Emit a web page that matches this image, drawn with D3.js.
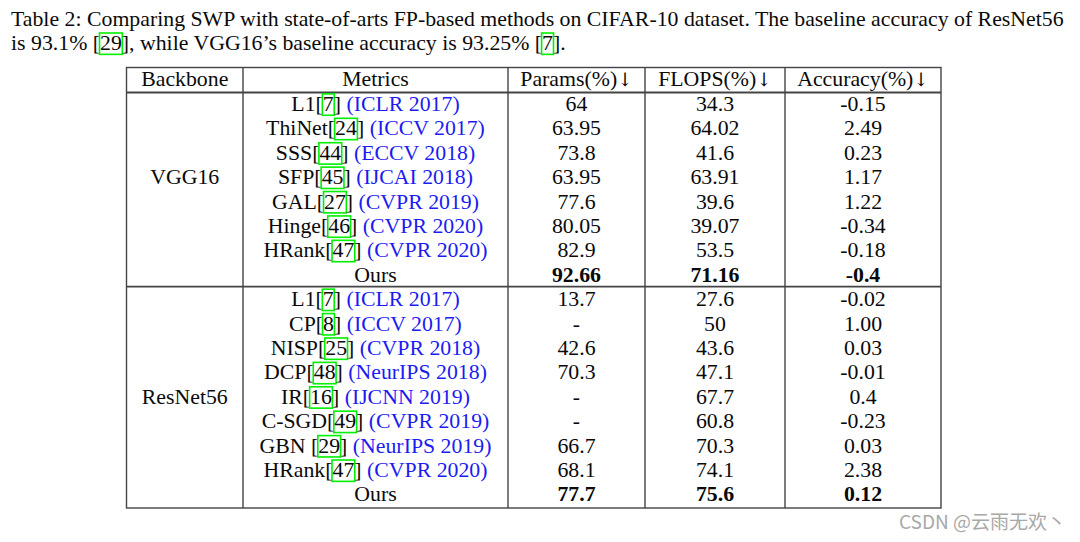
<!DOCTYPE html>
<html><head><meta charset="utf-8">
<script src="https://cdn.jsdelivr.net/npm/d3@7"></script>
<style>
html,body{margin:0;padding:0;background:#fff;}
svg text{white-space:pre;}
</style></head>
<body>
<svg id="c" width="1080" height="542"></svg>
<script>
// ---------- data ----------
const captionLines = [
  [{t:"Table 2: Comparing SWP with state-of-arts FP-based methods on CIFAR-10 dataset. The baseline accuracy of ResNet56"}],
  [{t:"is 93.1% ["},{t:"29",box:true},{t:"], while VGG16’s baseline accuracy is 93.25% ["},{t:"7",box:true},{t:"]."}]
];
const headers = ["Backbone","Metrics","Params(%)","FLOPS(%)","Accuracy(%)"];
const headerArrows = ["","","↓","↓","↓"];
const backbones = ["VGG16","ResNet56"];
const groupSizes = [8, 9];
const methods = ["L1","ThiNet","SSS","SFP","GAL","Hinge","HRank","Ours",
                 "L1","CP","NISP","DCP","IR","C-SGD","GBN ","HRank","Ours"];
const refs = ["7","24","44","45","27","46","47","",
              "7","8","25","48","16","49","29","47",""];
const venues = ["ICLR 2017","ICCV 2017","ECCV 2018","IJCAI 2018","CVPR 2019","CVPR 2020","CVPR 2020","",
                "ICLR 2017","ICCV 2017","CVPR 2018","NeurIPS 2018","IJCNN 2019","CVPR 2019","NeurIPS 2019","CVPR 2020",""];
const params = ["64","63.95","73.8","63.95","77.6","80.05","82.9","92.66",
                "13.7","-","42.6","70.3","-","-","66.7","68.1","77.7"];
const flops = ["34.3","64.02","41.6","63.91","39.6","39.07","53.5","71.16",
               "27.6","50","43.6","47.1","67.7","60.8","70.3","74.1","75.6"];
const accuracy = ["-0.15","2.49","0.23","1.17","1.22","-0.34","-0.18","-0.4",
                  "-0.02","1.00","0.03","-0.01","0.4","-0.23","0.03","2.38","0.12"];
const watermark = "CSDN @云雨无欢丶";

// ---------- layout ----------
const svg = d3.select("#c");
const FONT = "'Liberation Serif','Times New Roman',serif";
const ARROW_FONT = "'DejaVu Serif','DejaVu Sans',serif";
const FS = 21.8;
const colEdges = [126.5, 243, 508, 645, 785, 941];
const tableTop = 67.5, headerBottom = 92.5, tableBottom = 508;
const nRows = methods.length;
const rowY = d3.scaleLinear().domain([0, nRows - 1]).range([103.5, 494]);
const colX = i => (colEdges[i] + colEdges[i+1]) / 2;
const BLUE = "#1c1cf0", GREEN = "#00f000", LINE = "#444", INK = "#0a0a0a";

// measurement helper
const meas = svg.append("text").attr("font-family", FONT).attr("font-size", FS).attr("visibility","hidden");
function width(s){
  meas.attr("font-weight", s.bold ? "bold":"normal").attr("font-family", s.font || FONT)
      .attr("font-size", s.fs).text(s.t);
  return meas.node().getComputedTextLength();
}

function drawSegments(g, segs, x, y, anchor, fs){
  segs.forEach(s => { if (!s.fs) s.fs = fs; });
  const ws = segs.map(s => width(s));
  const total = d3.sum(ws);
  let cx = anchor === "middle" ? x - total/2 : x;
  segs.forEach((s, i) => {
    if (s.box) {
      g.append("rect").attr("x", cx - 0.5).attr("y", y - fs*0.78).attr("width", ws[i] + 1).attr("height", fs*0.98)
        .attr("fill","none").attr("stroke", GREEN).attr("stroke-width", 1.6);
    }
    g.append("text").attr("x", cx).attr("y", y)
      .attr("font-family", s.font || FONT).attr("font-size", s.fs)
      .attr("font-weight", s.bold ? "bold" : "normal")
      .attr("fill", s.color || INK).text(s.t);
    cx += ws[i];
  });
}

// caption
const cap = svg.append("g");
captionLines.forEach((line, i) => drawSegments(cap, line, 11, 25.5 + i*24.5, "start", FS));

// table lines
const lines = svg.append("g").attr("stroke", LINE).attr("stroke-width", 1.4).attr("fill","none");
lines.append("rect").attr("x", colEdges[0]).attr("y", tableTop)
  .attr("width", colEdges[5]-colEdges[0]).attr("height", tableBottom - tableTop);
colEdges.slice(1, -1).forEach(x => lines.append("line").attr("x1", x).attr("x2", x).attr("y1", tableTop).attr("y2", tableBottom));
lines.append("line").attr("x1", colEdges[0]).attr("x2", colEdges[5]).attr("y1", headerBottom).attr("y2", headerBottom).attr("stroke-width", 1.8);
const sepY = (rowY(groupSizes[0]-1) + rowY(groupSizes[0])) / 2;
lines.append("line").attr("x1", colEdges[0]).attr("x2", colEdges[5]).attr("y1", sepY).attr("y2", sepY).attr("stroke-width", 1.8);

const base = FS * 0.34;
// headers
const hg = svg.append("g");
headers.forEach((h, i) => {
  const segs = [{t:h}];
  if (headerArrows[i]) segs.push({t:headerArrows[i], font: ARROW_FONT, fs: FS*0.85});
  drawSegments(hg, segs, colX(i), (tableTop+headerBottom)/2 + base - 1, "middle", FS);
});

// backbone labels (multirow: placed on the middle row, rounded down)
const bg = svg.append("g");
let start = 0;
backbones.forEach((b, i) => {
  const midRow = start + Math.floor((groupSizes[i] - 1) / 2);
  drawSegments(bg, [{t:b}], colX(0), rowY(midRow) + base, "middle", FS);
  start += groupSizes[i];
});

// rows
const rg = svg.append("g");
methods.forEach((m, i) => {
  const y = rowY(i) + base;
  const ours = refs[i] === "";
  const segs = ours ? [{t:m}] : [{t:m + "["},{t:refs[i],box:true},{t:"] "},{t:"(" + venues[i] + ")", color: BLUE}];
  drawSegments(rg, segs, colX(1), y, "middle", FS);
  drawSegments(rg, [{t:params[i], bold:ours}], colX(2), y, "middle", FS);
  drawSegments(rg, [{t:flops[i], bold:ours}], colX(3), y, "middle", FS);
  drawSegments(rg, [{t:accuracy[i], bold:ours}], colX(4), y, "middle", FS);
});

// watermark
svg.append("text").attr("x", 1066).attr("y", 529).attr("text-anchor","end")
  .attr("font-family","'Noto Sans CJK SC','Noto Sans',sans-serif").attr("font-size", 19)
  .attr("fill","#a8a8a8").text(watermark);
</script>
</body></html>
